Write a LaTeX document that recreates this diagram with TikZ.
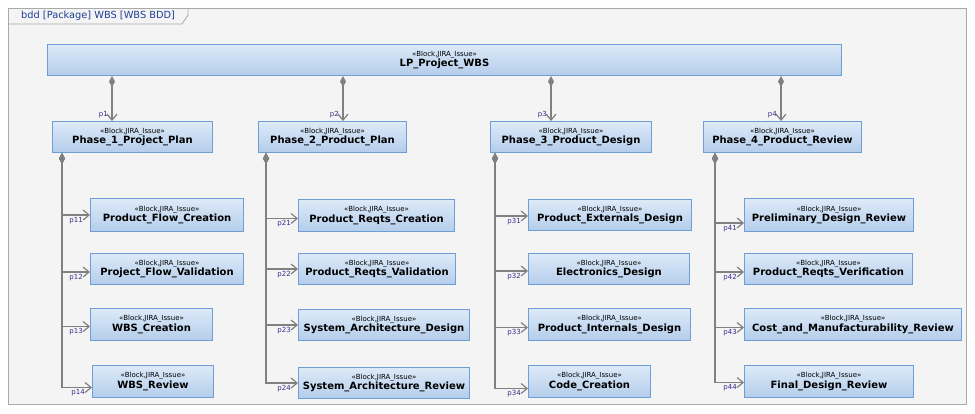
\documentclass[tikz,border=0pt]{standalone}
\usepackage{fontspec}
\setmainfont{DejaVu Sans}
\usetikzlibrary{arrows.meta}
\definecolor{bxTop}{HTML}{DDEAF8}
\definecolor{bxBot}{HTML}{B4CDEB}
\definecolor{bxLine}{HTML}{6E9ED3}
\definecolor{conn}{HTML}{808080}
\definecolor{lbl}{HTML}{3B2C8C}
\definecolor{frameBg}{HTML}{F4F4F4}
\definecolor{frameLine}{HTML}{A9A9A9}
\definecolor{titleCol}{HTML}{1F3F95}
\tikzset{
 blk/.style={draw=bxLine, line width=1pt, top color=bxTop, bottom color=bxBot, anchor=north west, inner sep=0pt, align=center, text=black},
 comp/.style={draw=conn, line width=1.6pt, {Diamond[length=11pt,width=6pt,fill=conn]}-{Straight Barb[length=6pt,width=10pt,line width=1.2pt]}},
 plbl/.style={text=lbl, font=\fontsize{7}{8}\selectfont, inner sep=0pt},
}
\newcommand{\blkt}[1]{{\fontsize{7}{8}\selectfont «Block,JIRA\_Issue»}\\[-1.5pt]{\fontsize{10}{11}\selectfont\bfseries #1}}
\begin{document}
\begin{tikzpicture}[x=1pt,y=-1pt]
\useasboundingbox (0,0) rectangle (975,413);
\fill[white] (0,0) rectangle (975,413);
\draw[frameLine, fill=frameBg, line width=0.8pt] (8,8) rectangle (966,404);
\draw[frameLine, line width=0.8pt] (8,24) -- (182,24) -- (188,15) -- (188,8);
\node[anchor=west, text=titleCol, font=\fontsize{9.8}{11}\selectfont, inner sep=0pt] (title) at (21,16) {bdd [Package] WBS [WBS BDD]};

% top block
\node[blk, minimum width=794pt, minimum height=31pt] (top) at (47,44) {\blkt{LP\_Project\_WBS}};
% phases
\node[blk, minimum width=160pt, minimum height=31pt] (ph1) at (52,121) {\blkt{Phase\_1\_Project\_Plan}};
\node[blk, minimum width=148pt, minimum height=31pt] (ph2) at (258,121) {\blkt{Phase\_2\_Product\_Plan}};
\node[blk, minimum width=161pt, minimum height=31pt] (ph3) at (490,121) {\blkt{Phase\_3\_Product\_Design}};
\node[blk, minimum width=158pt, minimum height=31pt] (ph4) at (703,121) {\blkt{Phase\_4\_Product\_Review}};
% children
\node[blk, minimum width=153pt, minimum height=33pt] (c11) at (90,198) {\blkt{Product\_Flow\_Creation}};
\node[blk, minimum width=153pt, minimum height=31pt] (c12) at (90,253) {\blkt{Project\_Flow\_Validation}};
\node[blk, minimum width=122pt, minimum height=32pt] (c13) at (90,308) {\blkt{WBS\_Creation}};
\node[blk, minimum width=121pt, minimum height=32pt] (c14) at (92,365) {\blkt{WBS\_Review}};
\node[blk, minimum width=156pt, minimum height=32pt] (c21) at (298,199) {\blkt{Product\_Reqts\_Creation}};
\node[blk, minimum width=157pt, minimum height=31pt] (c22) at (298,253) {\blkt{Product\_Reqts\_Validation}};
\node[blk, minimum width=171pt, minimum height=31pt] (c23) at (298,309) {\blkt{System\_Architecture\_Design}};
\node[blk, minimum width=171pt, minimum height=31pt] (c24) at (298,367) {\blkt{System\_Architecture\_Review}};
\node[blk, minimum width=163pt, minimum height=31pt] (c31) at (528,199) {\blkt{Product\_Externals\_Design}};
\node[blk, minimum width=161pt, minimum height=31pt] (c32) at (528,253) {\blkt{Electronics\_Design}};
\node[blk, minimum width=162pt, minimum height=32pt] (c33) at (528,308) {\blkt{Product\_Internals\_Design}};
\node[blk, minimum width=122pt, minimum height=32pt] (c34) at (528,365) {\blkt{Code\_Creation}};
\node[blk, minimum width=169pt, minimum height=33pt] (c41) at (744,198) {\blkt{Preliminary\_Design\_Review}};
\node[blk, minimum width=168pt, minimum height=31pt] (c42) at (744,253) {\blkt{Product\_Reqts\_Verification}};
\node[blk, minimum width=217pt, minimum height=32pt] (c43) at (744,308) {\blkt{Cost\_and\_Manufacturability\_Review}};
\node[blk, minimum width=169pt, minimum height=32pt] (c44) at (744,365) {\blkt{Final\_Design\_Review}};

% top connectors
\foreach \i/\xx in {1/112,2/343,3/551,4/781}{
  \coordinate (a\i) at (\xx,0);
  \draw[comp] (top.south -| a\i) -- (ph\i.north -| a\i);
  \node[plbl, anchor=south east] (lp\i) at ([xshift=-4pt,yshift=3pt]ph\i.north -| a\i) {p\i};
}
% trunks
\coordinate (t1) at (62,0);
\coordinate (t2) at (266,0);
\coordinate (t3) at (495,0);
\coordinate (t4) at (715,0);
\foreach \p/\c/\d in {1/1/0,1/2/3,1/3/2,1/4/6,
                      2/1/3,2/2/0,2/3/0,2/4/0,
                      3/1/1,3/2/2,3/3/3,3/4/7,
                      4/1/8,4/2/3,4/3/3,4/4/1}{
  \coordinate (e\p\c) at ([yshift=-\d pt]c\p\c.west);
  \draw[comp] (ph\p.south -| t\p) |- (e\p\c);
  \node[plbl, anchor=north east] (l\p\c) at ([xshift=-7pt,yshift=-2pt]e\p\c) {p\p\c};
}
\end{tikzpicture}
\end{document}
